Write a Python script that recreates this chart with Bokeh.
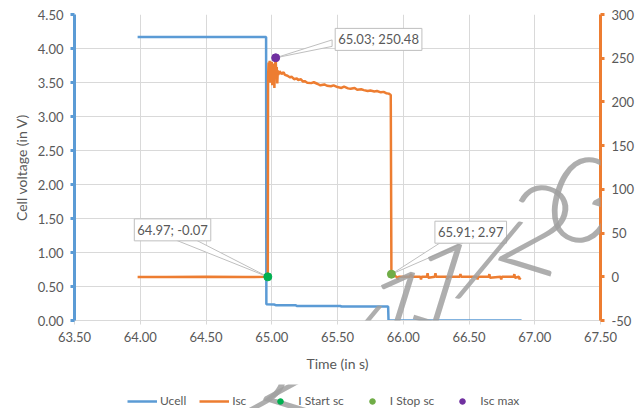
import numpy as np
from bokeh.plotting import figure
from bokeh.layouts import column
from bokeh.models import (Range1d, LinearAxis, NumeralTickFormatter, Legend, LegendItem,
                          Label, FixedTicker)
from bokeh.embed import file_html
from bokeh.resources import INLINE

# ---------------- data ----------------
ucell_t = [63.98, 64.957, 64.959, 65.02, 65.03, 65.18, 65.19, 65.52, 65.53, 65.885, 65.888, 66.90]
ucell_v = [4.17, 4.17, 0.24, 0.235, 0.225, 0.225, 0.215, 0.215, 0.206, 0.206, 0.0, 0.0]

isc_t = [63.98, 64.20, 64.50, 64.80, 64.97,
         64.972, 64.976, 64.980, 64.984, 64.988, 64.992, 64.996, 65.000, 65.004, 65.008,
         65.012, 65.016, 65.020, 65.024, 65.028, 65.030, 65.034, 65.038, 65.042, 65.046,
         65.050, 65.060, 65.075, 65.090, 65.100, 65.120, 65.140, 65.150, 65.170, 65.190,
         65.200, 65.220, 65.240, 65.250, 65.270, 65.300, 65.320, 65.350, 65.370, 65.400,
         65.420, 65.450, 65.470, 65.500, 65.530, 65.550, 65.580, 65.600, 65.630, 65.650,
         65.680, 65.700, 65.730, 65.750, 65.780, 65.800, 65.830, 65.850, 65.870, 65.890,
         65.905, 65.910,
         65.950, 65.960, 65.965, 66.050, 66.060, 66.065, 66.130, 66.135, 66.140, 66.180,
         66.185, 66.190, 66.240, 66.245, 66.250, 66.330, 66.335, 66.340, 66.430, 66.435,
         66.440, 66.560, 66.565, 66.570, 66.650, 66.655, 66.660, 66.740, 66.745, 66.750,
         66.840, 66.845, 66.850, 66.880, 66.885, 66.890]
isc_a = [-0.3, -0.2, -0.1, -0.2, -0.07,
         228, 245, 238, 247, 222, 244, 236, 246, 219, 241,
         235, 244, 216, 238, 246, 250.48, 232, 240, 221, 236,
         231, 235, 232, 234, 231, 230, 228, 229, 226, 227,
         225, 226, 223, 224, 222, 221.5, 222.5, 220.5, 219, 220,
         218.5, 218, 219, 217, 216, 217.5, 215.5, 215, 216, 214,
         214.5, 213.5, 212.5, 213, 212, 212.5, 211, 211.5, 210, 209.5,
         208, 2.97,
         0.0, -3.0, 0.0, 0.0, 3.0, 0.0, 0.0, -3.0, 0.0, 0.0,
         4.0, -1.0, 0.0, 4.0, 0.0, 0.0, -3.0, 0.0, 0.0, 3.0,
         0.0, 0.0, -3.0, 0.0, 0.0, 3.0, -1.0, 0.0, -3.0, 0.0,
         0.0, 3.0, -1.0, 0.0, -3.0, -1.0]

start_t, start_i = [64.97], [-0.07]
stop_t, stop_i = [65.91], [2.97]
max_t, max_i = [65.03], [250.48]

x_ticks = [63.5, 64.0, 64.5, 65.0, 65.5, 66.0, 66.5, 67.0, 67.5]
u_ticks = [0.0, 0.5, 1.0, 1.5, 2.0, 2.5, 3.0, 3.5, 4.0, 4.5]
i_ticks = [-50, 0, 50, 100, 150, 200, 250, 300]

series_names = ["Ucell", "Isc", "I Start sc", "I Stop sc", "Isc max"]
watermark = "22/11/2022"

# ---------------- layout / style ----------------
W, H = 636, 408
LEG_H = 24
BL, BR, BT, BB = 74, 36, 14, 64
FW, FH = W - BL - BR, H - LEG_H - BT - BB
X0, X1 = 63.5, 67.5
I0, I1 = -50, 300

BLUE = "#5B9BD5"
ORANGE = "#ED7D31"
GRID = "#D9D9D9"
TXT = "#595959"
FONT = "Lato"
NUM_SIZE = "13px"
CALLOUT_SIZE = "13px"
TITLE_SIZE = "14px"

p = figure(frame_width=FW, frame_height=FH, output_backend="svg", toolbar_location=None,
           x_range=Range1d(X0, X1), y_range=Range1d(0, 4.5),
           min_border_left=BL, min_border_right=BR, min_border_top=BT, min_border_bottom=BB,
           x_axis_label="Time (in s)", y_axis_label="Cell voltage (in V)")
p.outline_line_color = None
p.extra_y_ranges = {"isc": Range1d(I0, I1)}

p.xgrid.ticker = FixedTicker(ticks=x_ticks)
p.ygrid.ticker = FixedTicker(ticks=u_ticks)
p.xgrid.grid_line_color = GRID
p.ygrid.grid_line_color = GRID

# x axis
xa = p.xaxis[0]
xa.ticker = FixedTicker(ticks=x_ticks)
xa.formatter = NumeralTickFormatter(format="0.00")
xa.axis_line_color = GRID
xa.major_tick_line_color = GRID
xa.major_tick_out = 4
xa.major_tick_in = 0
xa.minor_tick_line_color = None
xa.major_label_standoff = 7
xa.axis_label_standoff = 10

# left axis
ya = p.yaxis[0]
ya.ticker = FixedTicker(ticks=u_ticks)
ya.formatter = NumeralTickFormatter(format="0.00")
ya.axis_line_color = BLUE
ya.axis_line_width = 3
ya.major_tick_line_color = BLUE
ya.major_tick_line_width = 3
ya.major_tick_out = 4
ya.major_tick_in = 0
ya.minor_tick_line_color = None
ya.major_label_standoff = 7
ya.axis_label_standoff = 5

# right axis
ra = LinearAxis(y_range_name="isc")
ra.ticker = FixedTicker(ticks=i_ticks)
ra.formatter = NumeralTickFormatter(format="0")
ra.axis_line_color = ORANGE
ra.axis_line_width = 3
ra.major_tick_line_color = ORANGE
ra.major_tick_line_width = 3
ra.major_tick_out = 4
ra.major_tick_in = 0
ra.minor_tick_line_color = None
ra.major_label_standoff = 7
p.add_layout(ra, "right")

for ax in (xa, ya, ra):
    ax.major_label_text_font = FONT
    ax.major_label_text_font_size = NUM_SIZE
    ax.major_label_text_color = TXT
    ax.axis_label_text_font = FONT
    ax.axis_label_text_font_size = TITLE_SIZE
    ax.axis_label_text_font_style = "normal"
    ax.axis_label_text_color = TXT

# series
r_u = p.line(ucell_t, ucell_v, line_color=BLUE, line_width=2.5)
r_i = p.line(isc_t, isc_a, line_color=ORANGE, line_width=2.5, y_range_name="isc")

# callouts (offsets in screen px; dy positive = up)
px_x = FW / (X1 - X0)
px_i = FH / (I1 - I0)
callouts = [
    (start_t[0], start_i[0], -133.5, 47, [(-91, 36.4), (-71, 36.4)]),
    (stop_t[0], stop_i[0], 43.5, 42, [(48.5, 31.2), (71.5, 31.2)]),
    (max_t[0], max_i[0], 59.5, 18.4, [(56.4, 17.9), (56.4, 11.4)]),
]
for (t, i, tdx, tdy, wedge) in callouts:
    xs = [t] + [t + dx / px_x for dx, dy in wedge]
    ys = [i] + [i + dy / px_i for dx, dy in wedge]
    p.patch(xs, ys, fill_color="white", line_color="#BFBFBF", line_width=1, y_range_name="isc")

r_s = p.scatter(start_t, start_i, size=8, color="#00B050", y_range_name="isc")
r_p = p.scatter(stop_t, stop_i, size=8, color="#70AD47", y_range_name="isc")
r_m = p.scatter(max_t, max_i, size=8, color="#7030A0", y_range_name="isc")

for (t, i, tdx, tdy, wedge) in callouts:
    lab = Label(x=t, y=i, y_range_name="isc", x_offset=tdx, y_offset=tdy,
                text=f"{t:.2f}; {i:.2f}", text_font=FONT, text_font_size=CALLOUT_SIZE,
                text_color=TXT, text_align="left", text_baseline="middle",
                background_fill_color="white", border_line_color="#BFBFBF",
                padding=3)
    p.add_layout(lab)

# ---------------- legend strip (separate figure under the chart) ----------------
# its ranges exclude the data, so only the legend entries are visible
lf = figure(width=W, height=LEG_H, output_backend="svg", toolbar_location=None,
            x_range=Range1d(0, 1), y_range=Range1d(-100, -99),
            x_axis_location=None, y_axis_location=None, min_border=0)
lf.outline_line_color = None
lf.grid.visible = False
l_u = lf.line(ucell_t, ucell_v, line_color=BLUE, line_width=2.5)
l_i = lf.line(isc_t, isc_a, line_color=ORANGE, line_width=2.5)
l_s = lf.scatter(start_t, start_i, size=8, color="#00B050")
l_p = lf.scatter(stop_t, stop_i, size=8, color="#70AD47")
l_m = lf.scatter(max_t, max_i, size=8, color="#7030A0")
legend = Legend(items=[LegendItem(label=n, renderers=[r]) for n, r in
                       zip(series_names, [l_u, l_i, l_s, l_p, l_m])],
                orientation="horizontal", location=(127 - BL, 0),
                glyph_width=30, glyph_height=14, label_standoff=3, spacing=13,
                padding=0, margin=0, border_line_color=None, background_fill_alpha=0,
                label_text_font=FONT, label_text_font_size="12px", label_text_color=TXT)
lf.add_layout(legend)

# ---------------- watermark (page-pixel layout, drawn in both parts) ----------------
wm_x0, wm_y0 = 255, 395      # centre of first character, page px
wm_dx, wm_dy = 47, -28       # advance per character, page px
bottom_p = BT + FH           # page y of the chart frame bottom
for k, ch in enumerate(watermark):
    cx, cy = wm_x0 + k * wm_dx, wm_y0 + k * wm_dy
    for fig, sx, sy in ((p, cx - BL, bottom_p - cy), (lf, cx - BL, H - cy)):
        fig.add_layout(Label(x=sx, y=sy, x_units="screen", y_units="screen",
                             text=ch, text_font="Lato Light, Lato", text_font_size="120px",
                             text_color="#A0A0A0", text_alpha=0.85, text_align="center",
                             text_baseline="middle", angle=-0.3, level="overlay"))

open("out.html", "w").write(file_html(column(p, lf, spacing=0), INLINE))
